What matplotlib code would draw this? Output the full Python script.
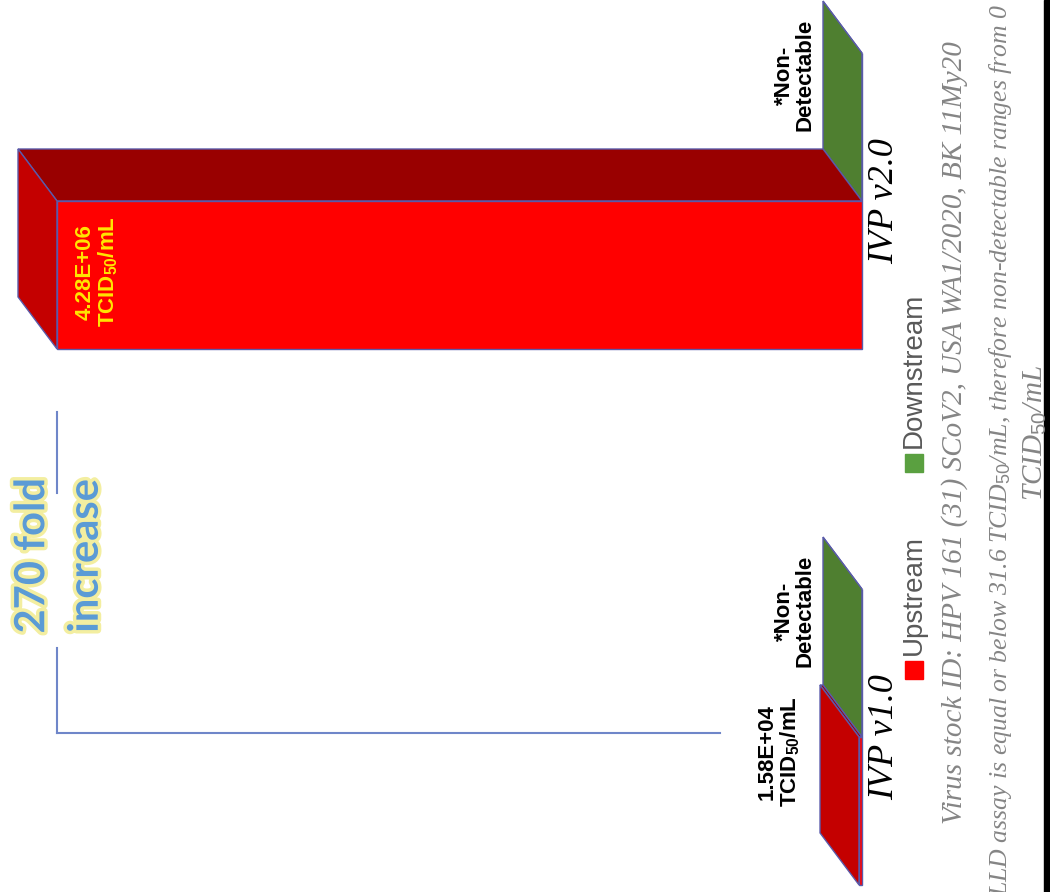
import numpy as np
import matplotlib
matplotlib.use("Agg")
from matplotlib import pyplot as plt
from matplotlib.patches import Polygon, Rectangle
import matplotlib.patheffects as pe

# chart data
categories = ["IVP v1.0", "IVP v2.0"]
series = ["Upstream", "Downstream"]
upstream = [1.58e4, 4.28e6]
downstream = [0.0, 0.0]
up_labels = ["1.58E+04", "4.28E+06"]
down_labels = ["*Non-\nDetectable", "*Non-\nDetectable"]
unit = r"TCID$_{\mathbf{50}}$/mL"
fold_text = "270 fold\nincrease"
footnotes = ["Virus stock ID: HPV 161 (31) SCoV2, USA WA1/2020, BK 11My20",
             r"The LLD assay is equal or below 31.6 TCID$_{\mathit{50}}$/mL, therefore non-detectable ranges from 0",
             r"TCID$_{\mathit{50}}$/mL"]

plt.rcParams['mathtext.fontset'] = 'custom'
plt.rcParams['mathtext.bf'] = 'Liberation Sans:bold'
plt.rcParams['mathtext.it'] = 'Liberation Serif:italic'
plt.rcParams['mathtext.rm'] = 'Liberation Sans'

W, H = 1050, 892
fig = plt.figure(figsize=(W / 100, H / 100), dpi=100)
ax = fig.add_axes([0, 0, 1, 1])
ax.axis('off')

# layout (image pixels): chart is drawn rotated, baseline on the right
BASE_PX, TOP_PX = 862, 57
CAT0_PY, CAT_PX = 737, 536
s = (BASE_PX - TOP_PX) / max(upstream)          # px per value unit
ax.set_xlim(BASE_PX / s, -(W - BASE_PX) / s)
ax.set_ylim(-(H - CAT0_PY) / CAT_PX, CAT0_PY / CAT_PX)

dx = 39 / s            # depth of 3d bars
dy = 52 / CAT_PX
half = 0.138
EDGE = '#5a5aaa'

def fx(px):
    return px / W

def fy(py):
    return 1 - py / H

def bar3d(v, c, front, top, side):
    y0, y1 = c - half, c + half
    ax.add_patch(Polygon([(0, y1), (v, y1), (v + dx, y1 + dy), (dx, y1 + dy)],
                         closed=True, fc=side, ec=EDGE, lw=1))
    ax.add_patch(Polygon([(v, y0), (v, y1), (v + dx, y1 + dy), (v + dx, y0 + dy)],
                         closed=True, fc=top, ec=EDGE, lw=1))
    ax.barh(c, v, height=2 * half, left=0, color=front, edgecolor=EDGE, linewidth=1)

pos = np.arange(len(categories))
for i in pos:
    bar3d(downstream[i], pos[i] + half, '#70ad47', '#4f7f30', '#3d6425')
    bar3d(upstream[i], pos[i] - half, '#ff0000', '#c40000', '#990000')

# value labels
for i in pos:
    v = upstream[i]
    if v > 0.1 * max(upstream):
        ax.annotate(up_labels[i] + "\n" + unit, xy=(v, pos[i] - half), xytext=(40, 3),
                    textcoords='offset pixels', rotation=90, ha='center', va='center',
                    multialignment='center', fontsize=16, fontweight='bold',
                    color='#ffe600', family='Liberation Sans', linespacing=1.0)
    else:
        ax.annotate(up_labels[i] + "\n" + unit, xy=(v, pos[i] - half), xytext=(-80, 59),
                    textcoords='offset pixels', rotation=90, ha='center', va='center',
                    multialignment='center', fontsize=16, fontweight='bold',
                    color='black', family='Liberation Sans', linespacing=1.0)
    ax.annotate(down_labels[i], xy=(downstream[i], pos[i] + half), xytext=(-67, 52),
                textcoords='offset pixels', rotation=90, ha='center', va='center',
                multialignment='center', fontsize=16, fontweight='bold',
                color='black', family='Liberation Sans', linespacing=1.0)
    ax.annotate(categories[i], xy=(0, pos[i]), xytext=(23, 0), textcoords='offset pixels',
                rotation=90, ha='center', va='center', fontsize=26, style='italic',
                family='Liberation Serif', color='black')

# fold-increase bracket
ax.plot([upstream[1], upstream[1]], [0.606, 0.455], color='#6f86c9', lw=1.5)
ax.plot([upstream[1], upstream[1]], [0.166, 0.0075], color='#6f86c9', lw=1.5)
ax.plot([upstream[1], 0.755e6], [0.0075, 0.0075], color='#6f86c9', lw=1.5)
fig.text(fx(59), fy(556), fold_text, rotation=90, ha='center', va='center',
         multialignment='center', fontsize=30, fontweight='bold', family='Lato',
         color='#5b9bd5', linespacing=1.5,
         path_effects=[pe.withStroke(linewidth=5, foreground='#f3eea0')])

# legend
leg_colors = ['#ff0000', '#5aa040']
leg_py = [670, 463]
for name, col, py in zip(series, leg_colors, leg_py):
    fig.patches.append(Rectangle((fx(905), fy(py + 9)), 18 / W, 18 / H,
                                 transform=fig.transFigure, color=col))
    fig.text(fx(914), fy(py - 15), name, rotation=90, rotation_mode='anchor',
             ha='left', va='center', fontsize=20, color='#595959', family='Liberation Sans')

# footnotes
fig.text(fx(955), fy(433), footnotes[0], rotation=90, ha='center', va='center',
         fontsize=21, style='italic', family='Liberation Serif', color='#858585')
fig.text(fx(1000), fy(4), footnotes[1], rotation=90, rotation_mode='anchor',
         ha='right', va='center', fontsize=18.5, style='italic', family='Liberation Serif',
         color='#858585')
fig.text(fx(1035), fy(433), footnotes[2], rotation=90, ha='center', va='center',
         fontsize=21, style='italic', family='Liberation Serif', color='#858585')

fig.patches.append(Rectangle((fx(1044), 0), 6 / W, 1, transform=fig.transFigure,
                             color='black'))

fig.savefig("out.png", dpi=100, facecolor='white')
